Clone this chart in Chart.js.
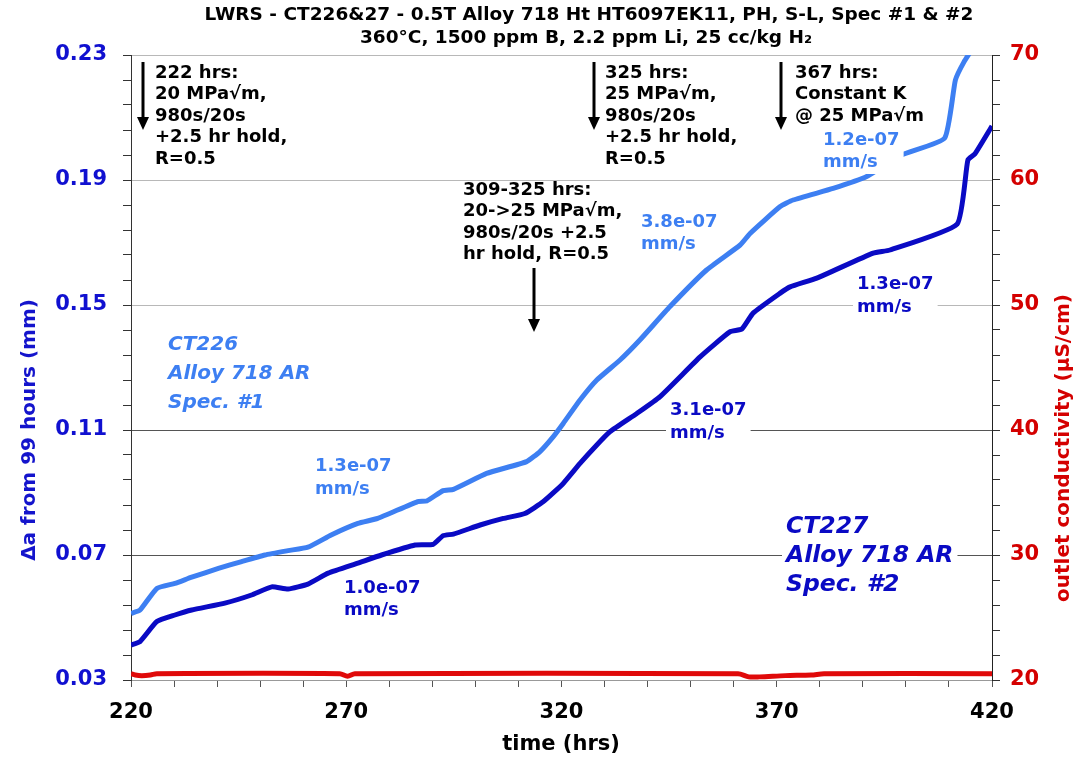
<!DOCTYPE html>
<html>
<head>
<meta charset="utf-8">
<title>LWRS CT226 & CT227</title>
<script src="https://cdn.jsdelivr.net/npm/chart.js@4.4.0/dist/chart.umd.min.js"></script>
<style>
    html, body { margin: 0; padding: 0; background: #fff; }
    #wrap { width: 1079px; height: 761px; position: relative; }
</style>
</head>
<body>
<div id="wrap"><canvas id="crackChart"></canvas></div>
<script>
// Crack growth data (time in hrs, crack extension in mm)
const hoursCT226 = [220.0, 222.1, 226.0, 230.2, 234.1, 240.3, 245.7, 251.1, 256.5, 261.1, 266.5, 272.7, 277.3, 286.6, 288.7,
    292.5, 294.9, 302.6, 311.9, 315.0, 318.1, 320.4, 324.3, 328.2, 333.6, 338.2, 345.2, 353.7, 361.5, 363.8, 370.8,
    373.8, 383.1, 390.9, 399.0, 409.0, 411.5, 413.5, 416.0];
const daCT226 = [0.0513, 0.0524, 0.0593, 0.0609, 0.0629, 0.0657, 0.0679, 0.0700, 0.0714, 0.0725, 0.0764, 0.0801, 0.0817, 0.0871, 0.0873,
    0.0906, 0.0910, 0.0961, 0.0999, 0.1031, 0.1079, 0.1121, 0.1196, 0.1260, 0.1324, 0.1388, 0.1495, 0.1612, 0.1692, 0.1729, 0.1815,
    0.1836, 0.1873, 0.1911, 0.1980, 0.2034, 0.2220, 0.2278, 0.2332];

const hoursCT227 = [220.0, 222.1, 226.0, 230.2, 234.1, 241.8, 248.0, 252.7, 256.5, 261.1, 265.8, 272.7, 278.2, 286.0, 290.2,
    292.5, 294.9, 301.1, 306.5, 311.5, 315.8, 320.4, 324.3, 328.2, 331.3, 337.5, 342.9, 352.2, 359.1, 361.9, 364.5,
    370.8, 373.1, 379.3, 392.4, 396.3, 411.9, 414.4, 416.0, 420.0];
const daCT227 = [0.0412, 0.0423, 0.0487, 0.0508, 0.0524, 0.0546, 0.0572, 0.0598, 0.0591, 0.0607, 0.0642, 0.0674, 0.0700, 0.0732, 0.0734,
    0.0762, 0.0767, 0.0796, 0.0817, 0.0833, 0.0871, 0.0929, 0.0993, 0.1052, 0.1095, 0.1153, 0.1207, 0.1334, 0.1414, 0.1423, 0.1474,
    0.1538, 0.1558, 0.1586, 0.1666, 0.1676, 0.1759, 0.1964, 0.1983, 0.2073];

// Outlet conductivity (uS/cm)
const hoursCond = [220, 221, 222.5, 224.5, 226, 268.5, 270.3, 272, 361, 363.5, 366, 372, 378, 381, 420];
const conductivity = [20.5, 20.4, 20.35, 20.4, 20.5, 20.5, 20.3, 20.5, 20.5, 20.25, 20.25, 20.35, 20.4, 20.5, 20.5];

// Tick labels
const xMajorTicks = [220, 270, 320, 370, 420];
const yLeftMajorTicks = [0.03, 0.07, 0.11, 0.15, 0.19, 0.23];
const yRightMajorTicks = [20, 30, 40, 50, 60, 70];

const LIGHT_BLUE = '#3d7ff2';
const DARK_BLUE = '#0a0ac4';
const RED = '#e00a0a';
const FONT = '"DejaVu Sans", Verdana, sans-serif';

const toPoints = (xs, ys) => xs.map((x, i) => ({ x: x, y: ys[i] }));

// 5 subdivisions between labelled ticks
function withMinors(majors) {
    const out = [];
    for (let i = 0; i < majors.length; i++) {
        out.push(majors[i]);
        if (i < majors.length - 1) {
            const step = (majors[i + 1] - majors[i]) / 5;
            for (let k = 1; k < 5; k++) out.push(majors[i] + step * k);
        }
    }
    return out;
}
const isMajor = (v, majors) => majors.some(m => Math.abs(m - v) < 1e-9);

function drawText(ctx, lines, x, y, lh, font, color, bg) {
    ctx.save();
    ctx.font = font;
    ctx.textBaseline = 'middle';
    ctx.textAlign = 'left';
    if (bg) {
        const w = Math.max(...lines.map(l => ctx.measureText(l).width));
        ctx.fillStyle = '#fff';
        ctx.fillRect(x - 4, y - lh / 2 - 1, w + 8, lh * lines.length + 2);
    }
    ctx.fillStyle = color;
    lines.forEach((l, i) => ctx.fillText(l, x, y + i * lh));
    ctx.restore();
}

function drawArrow(ctx, x, y1, y2) {
    ctx.save();
    ctx.strokeStyle = '#000';
    ctx.fillStyle = '#000';
    ctx.lineWidth = 3;
    ctx.beginPath();
    ctx.moveTo(x, y1);
    ctx.lineTo(x, y2 - 10);
    ctx.stroke();
    ctx.beginPath();
    ctx.moveTo(x - 6, y2 - 13);
    ctx.lineTo(x + 6, y2 - 13);
    ctx.lineTo(x, y2);
    ctx.closePath();
    ctx.fill();
    ctx.restore();
}

const annotationPlugin = {
    id: 'annotations',
    beforeDraw(chart) {
        const ctx = chart.ctx;
        ctx.save();
        ctx.fillStyle = '#fff';
        ctx.fillRect(0, 0, chart.width, chart.height);
        ctx.restore();
    },
    afterDatasetsDraw(chart) {
        const ctx = chart.ctx;
        const note = 'bold 18px ' + FONT;
        const rate = 'bold 18px ' + FONT;

        // title
        ctx.save();
        ctx.font = 'bold 18.5px ' + FONT;
        ctx.fillStyle = '#000';
        ctx.textAlign = 'center';
        ctx.textBaseline = 'middle';
        ctx.fillText('LWRS - CT226&27 - 0.5T Alloy 718 Ht HT6097EK11, PH, S-L, Spec #1 & #2', 589, 15);
        ctx.fillText('360°C, 1500 ppm B, 2.2 ppm Li, 25 cc/kg H\u2082', 586, 38);

        // axis titles
        ctx.font = 'bold 20px ' + FONT;
        ctx.fillStyle = '#1414cc';
        ctx.translate(30, 430);
        ctx.rotate(-Math.PI / 2);
        ctx.fillText('\u0394a from 99 hours (mm)', 0, 0);
        ctx.restore();

        ctx.save();
        ctx.font = 'bold 20px ' + FONT;
        ctx.fillStyle = '#d40000';
        ctx.textAlign = 'center';
        ctx.textBaseline = 'middle';
        ctx.translate(1064, 448);
        ctx.rotate(-Math.PI / 2);
        ctx.fillText('outlet conductivity (\u00b5S/cm)', 0, 0);
        ctx.restore();

        ctx.save();
        ctx.font = 'bold 21px ' + FONT;
        ctx.fillStyle = '#000';
        ctx.textAlign = 'center';
        ctx.textBaseline = 'middle';
        ctx.fillText('time (hrs)', 561, 745);
        ctx.restore();

        // loading notes
        drawArrow(ctx, 143, 62, 130);
        drawText(ctx, ['222 hrs:', '20 MPa\u221am,', '980s/20s', '+2.5 hr hold,', 'R=0.5'], 155, 73, 21.5, note, '#000');
        drawArrow(ctx, 594, 62, 130);
        drawText(ctx, ['325 hrs:', '25 MPa\u221am,', '980s/20s', '+2.5 hr hold,', 'R=0.5'], 605, 73, 21.5, note, '#000');
        drawArrow(ctx, 781, 62, 130);
        drawText(ctx, ['367 hrs:', 'Constant K', '@ 25 MPa\u221am'], 795, 73, 21.5, note, '#000');
        drawText(ctx, ['309-325 hrs:', '20->25 MPa\u221am,', '980s/20s +2.5', 'hr hold, R=0.5'], 463, 190, 21.5, note, '#000');
        drawArrow(ctx, 534, 268, 332);

        // growth rates
        drawText(ctx, ['3.8e-07', 'mm/s'], 641, 222, 22, rate, LIGHT_BLUE);
        drawText(ctx, ['1.2e-07', 'mm/s'], 823, 140, 22, rate, LIGHT_BLUE, true);
        drawText(ctx, ['1.3e-07', 'mm/s'], 857, 284, 23, rate, DARK_BLUE, true);
        drawText(ctx, ['3.1e-07', 'mm/s'], 670, 410, 23, rate, DARK_BLUE, true);
        drawText(ctx, ['1.3e-07', 'mm/s'], 315, 466, 23, rate, LIGHT_BLUE);
        drawText(ctx, ['1.0e-07', 'mm/s'], 344, 588, 22, rate, DARK_BLUE);

        // specimen labels
        drawText(ctx, ['CT226', 'Alloy 718 AR', 'Spec. #1'], 168, 345, 29, 'italic bold 20px ' + FONT, LIGHT_BLUE);
        drawText(ctx, ['CT227', 'Alloy 718 AR', 'Spec. #2'], 786, 527, 29, 'italic bold 23.5px ' + FONT, DARK_BLUE, true);
    }
};

const ctx = document.getElementById('crackChart').getContext('2d');
new Chart(ctx, {
    type: 'line',
    data: {
        datasets: [
            {
                label: 'outlet conductivity',
                data: toPoints(hoursCond, conductivity),
                yAxisID: 'y2',
                borderColor: RED,
                borderWidth: 5,
                pointRadius: 0,
                tension: 0.3,
                clip: 0
            },
            {
                label: 'CT226',
                data: toPoints(hoursCT226, daCT226),
                yAxisID: 'y',
                borderColor: LIGHT_BLUE,
                borderWidth: 5,
                pointRadius: 0,
                tension: 0.15,
                clip: 0
            },
            {
                label: 'CT227',
                data: toPoints(hoursCT227, daCT227),
                yAxisID: 'y',
                borderColor: DARK_BLUE,
                borderWidth: 5,
                pointRadius: 0,
                tension: 0.15,
                clip: 0
            }
        ]
    },
    options: {
        responsive: true,
        maintainAspectRatio: false,
        animation: false,
        layout: { padding: { top: 55, left: 0, right: 0, bottom: 0 } },
        plugins: {
            legend: { display: false },
            title: { display: false },
            tooltip: { enabled: false }
        },
        scales: {
            x: {
                type: 'linear',
                min: 220,
                max: 420,
                afterFit: s => { s.height = 81; },
                afterBuildTicks: s => { s.ticks = withMinors(xMajorTicks).map(v => ({ value: v })); },
                ticks: {
                    autoSkip: false,
                    maxRotation: 0,
                    padding: 13,
                    color: '#000',
                    font: { family: FONT, size: 21, weight: 'bold' },
                    callback: v => isMajor(v, xMajorTicks) ? v : ''
                },
                grid: { drawOnChartArea: false, tickLength: 7, tickColor: '#555' },
                border: { color: '#999' }
            },
            y: {
                position: 'left',
                min: 0.03,
                max: 0.23,
                afterFit: s => { s.width = 131; },
                afterBuildTicks: s => { s.ticks = withMinors(yLeftMajorTicks).map(v => ({ value: v })); },
                ticks: {
                    autoSkip: false,
                    padding: 16,
                    color: '#1010d0',
                    font: { family: FONT, size: 21, weight: 'bold' },
                    callback: v => isMajor(v, yLeftMajorTicks) ? v.toFixed(2) : ''
                },
                grid: {
                    tickLength: 8,
                    tickColor: '#333',
                    color: c => {
                        const v = c.tick.value;
                        if (!isMajor(v, yLeftMajorTicks) || Math.abs(v - 0.03) < 1e-9) return 'rgba(0,0,0,0)';
                        return (Math.abs(v - 0.07) < 1e-9 || Math.abs(v - 0.11) < 1e-9) ? '#555' : '#b8b8b8';
                    }
                },
                border: { color: '#333' }
            },
            y2: {
                position: 'right',
                min: 20,
                max: 70,
                afterFit: s => { s.width = 87; },
                afterBuildTicks: s => { s.ticks = withMinors(yRightMajorTicks).map(v => ({ value: v })); },
                ticks: {
                    autoSkip: false,
                    padding: 10,
                    color: '#d40000',
                    font: { family: FONT, size: 21, weight: 'bold' },
                    callback: v => isMajor(v, yRightMajorTicks) ? v : ''
                },
                grid: { drawOnChartArea: false, tickLength: 8, tickColor: '#333' },
                border: { color: '#222' }
            }
        }
    },
    plugins: [annotationPlugin]
});
</script>
</body>
</html>
